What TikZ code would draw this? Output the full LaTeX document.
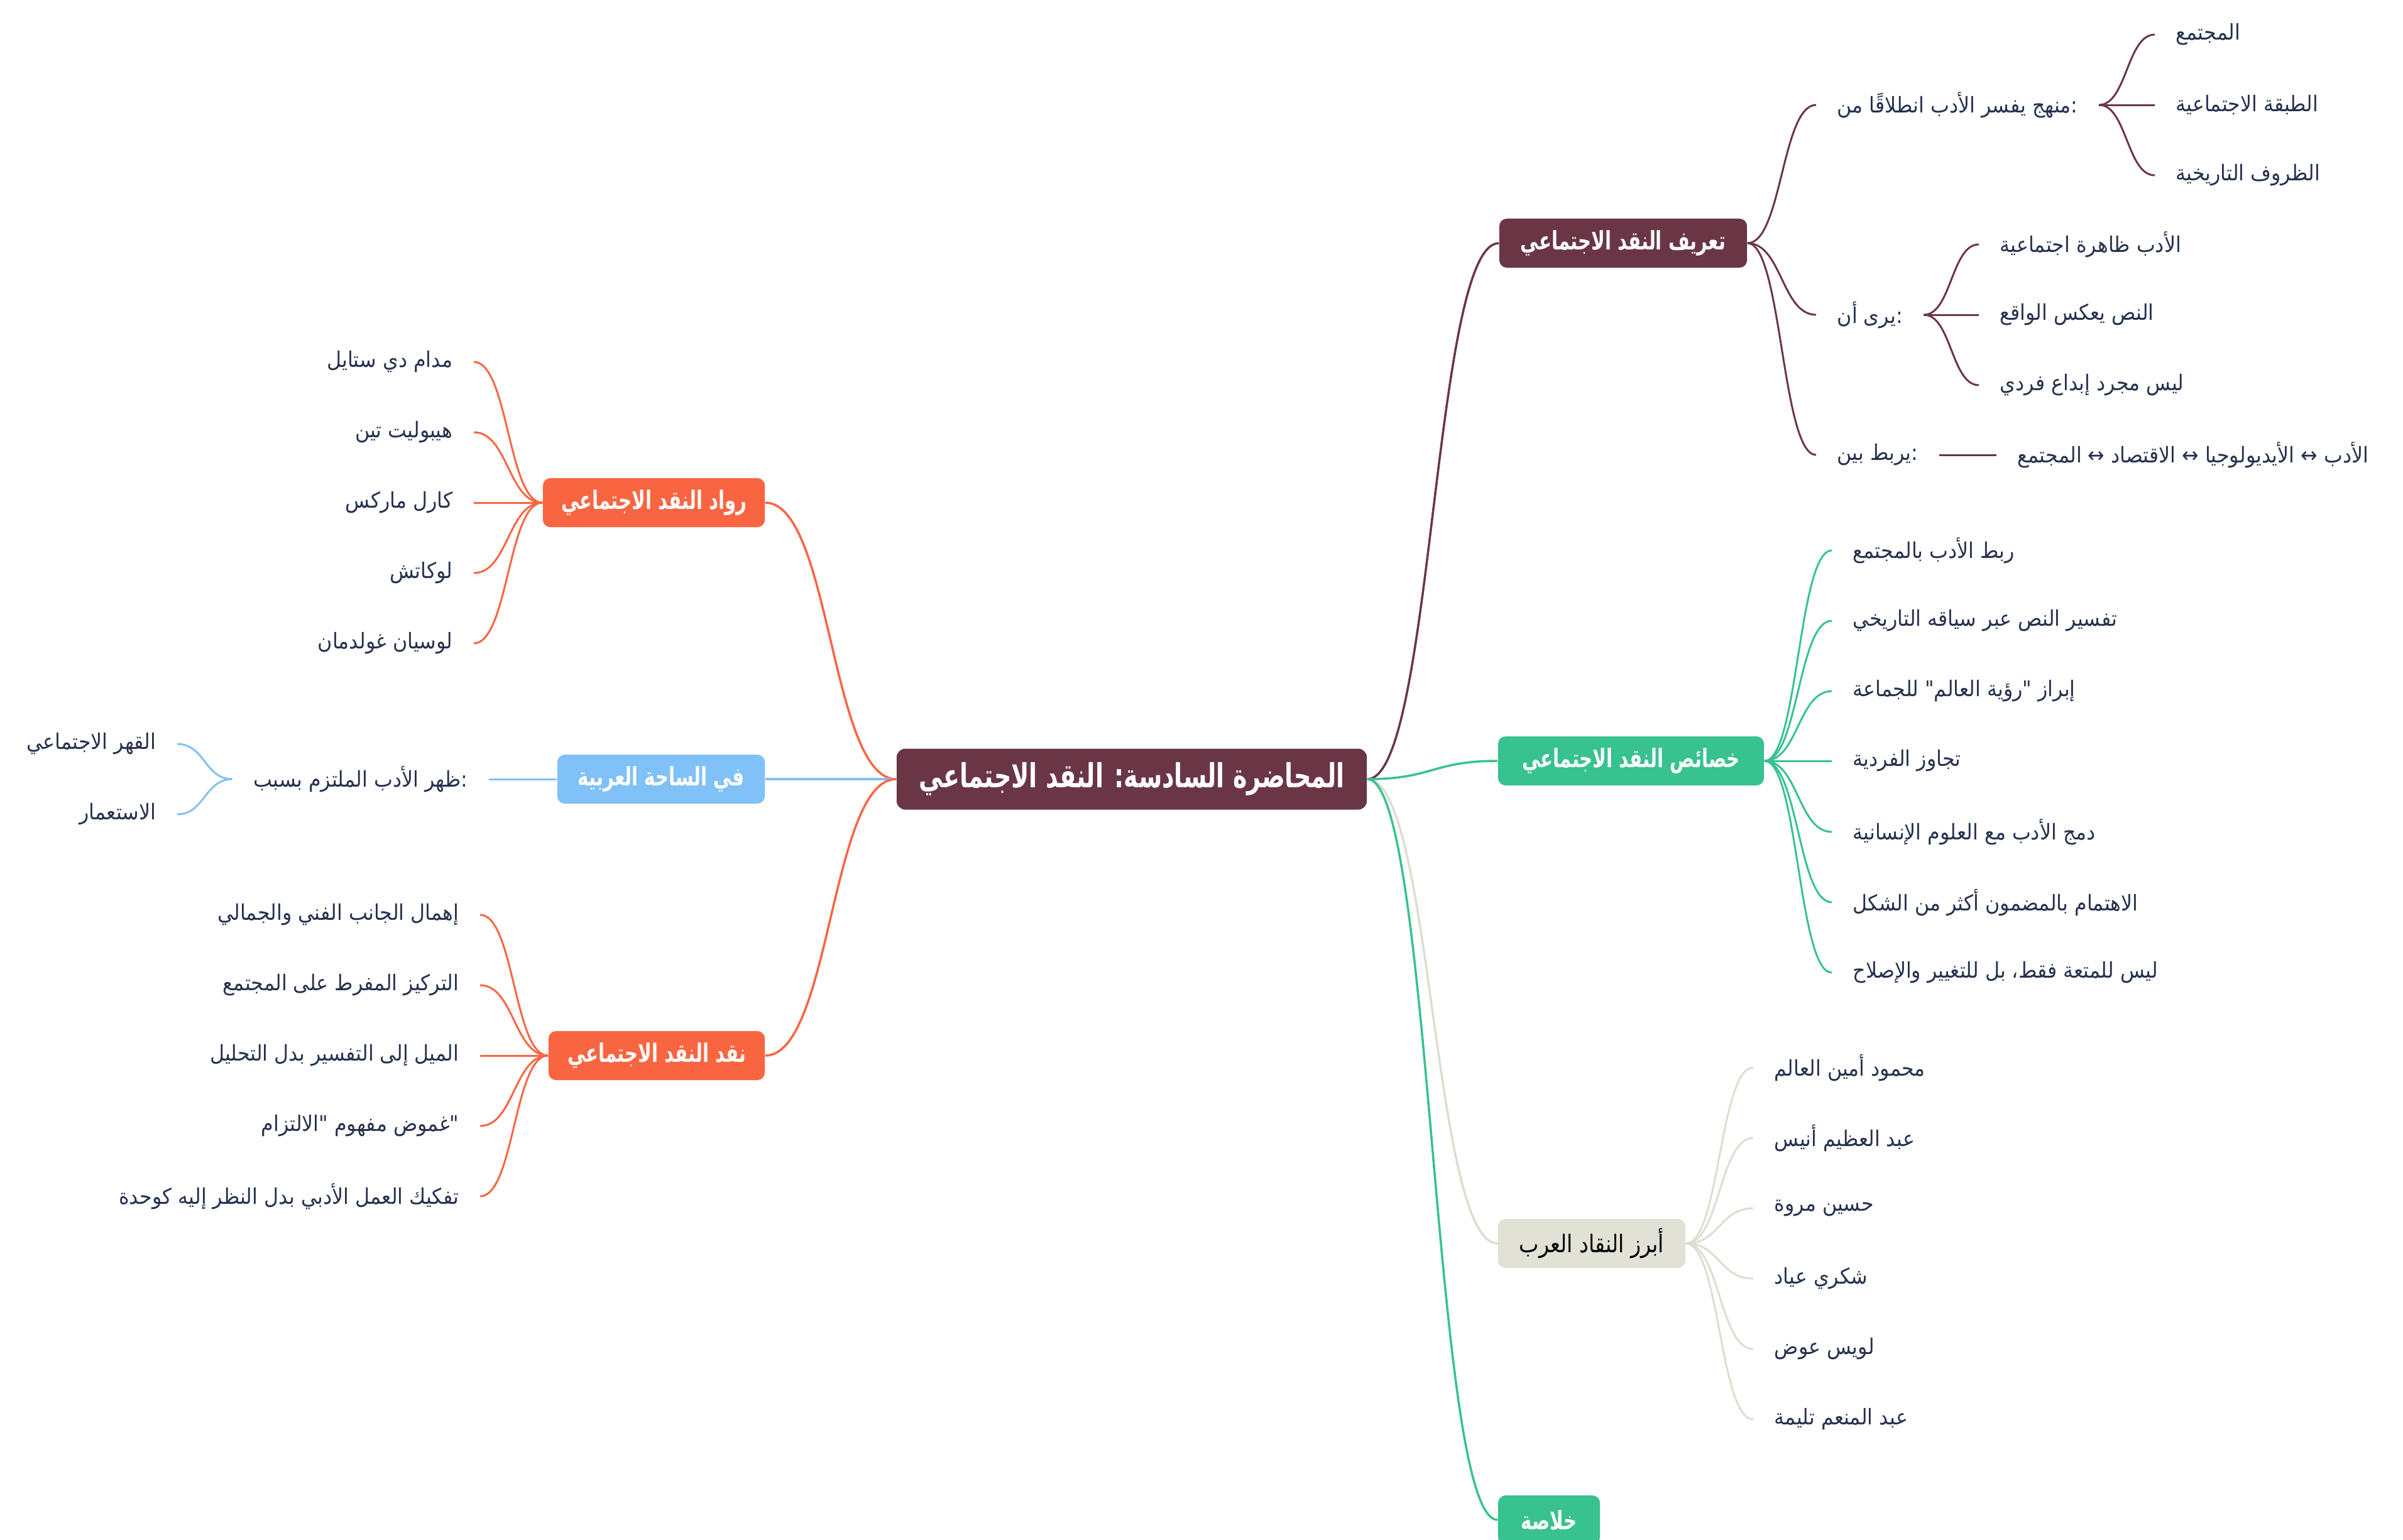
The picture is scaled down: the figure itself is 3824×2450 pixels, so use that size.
\documentclass[tikz,border=0pt]{standalone}
\usepackage{fontspec}
\usetikzlibrary{calc}
\TeXXeTstate=1
\newfontfamily\arabicfont[Script=Arabic,FakeStretch=0.92]{DejaVu Sans}
\newfontfamily\arabiccond[Script=Arabic,FakeStretch=0.72]{DejaVu Sans}
\newfontfamily\arabicsemi[Script=Arabic,FakeStretch=0.86]{DejaVu Sans}
\newcommand\artext[1]{\beginR #1\endR}
\definecolor{maroon}{HTML}{6A3646}
\definecolor{mintgreen}{HTML}{37C28F}
\definecolor{coral}{HTML}{F96541}
\definecolor{skyblue}{HTML}{80C1F7}
\definecolor{beige}{HTML}{E2E1D6}
\definecolor{beigeline}{HTML}{DDDDD0}
\definecolor{ink}{HTML}{25324F}
\begin{document}
\begin{tikzpicture}[x=0.01cm,y=-0.01cm,
  box/.style={rounded corners=0.12cm, minimum height=0.78cm, inner sep=0pt, text=white,
    font=\arabiccond\bfseries\fontsize{11.5}{13}\selectfont},
  leaf/.style={inner xsep=0.33cm, inner ysep=0pt, text=ink,
    font=\arabicfont\fontsize{9.8}{11}\selectfont},
  conn/.style={line width=1pt},
  subconn/.style={line width=0.85pt},
  scurve/.style={to path={let \p1=(\tikztostart), \p2=(\tikztotarget) in
    .. controls ({0.5*(\x1+\x2)},\y1) and ({0.5*(\x1+\x2)},\y2) .. (\tikztotarget)}}
]
\useasboundingbox (0,0) rectangle (3824,2450);

% main
\node[box, fill=maroon, minimum width=7.48cm, minimum height=0.97cm, rounded corners=0.14cm,
  font=\arabiccond\bfseries\fontsize{15}{17}\selectfont] (main) at (1801,1240)
  {\artext{المحاضرة السادسة: النقد الاجتماعي}};

% right branches
\node[box, fill=maroon, minimum width=3.94cm] (b1) at (2583,387) {\artext{تعريف النقد الاجتماعي}};
\node[box, fill=mintgreen, minimum width=4.23cm] (b2) at (2595.5,1211) {\artext{خصائص النقد الاجتماعي}};
\node[box, fill=beige, minimum width=2.98cm, text=black,
  font=\arabicsemi\fontsize{11}{13}\selectfont] (b3) at (2533,1979) {\artext{أبرز النقاد العرب}};
\node[box, fill=mintgreen, minimum width=1.62cm] (b4) at (2465,2419) {\artext{خلاصة}};

% left branches
\node[box, fill=coral, minimum width=3.53cm] (l1) at (1040.5,800) {\artext{رواد النقد الاجتماعي}};
\node[box, fill=skyblue, minimum width=3.30cm] (l2) at (1052,1240) {\artext{في الساحة العربية}};
\node[box, fill=coral, minimum width=3.44cm] (l3) at (1045,1680) {\artext{نقد النقد الاجتماعي}};

% main connectors
\draw[conn, maroon] (main.east) to[scurve] (b1.west);
\draw[conn, beigeline] (main.east) to[scurve] (b3.west);
\draw[conn, mintgreen] (main.east) to[scurve] (b4.west);
\draw[conn, mintgreen] (main.east) to[scurve] (b2.west);
\draw[conn, coral] (main.west) to[scurve] (l1.east);
\draw[conn, skyblue] (main.west) to[scurve] (l2.east);
\draw[conn, coral] (main.west) to[scurve] (l3.east);

% definition
\node[leaf, anchor=west] (t1) at (2890,167) {\artext{منهج يفسر الأدب انطلاقًا من}:};
\node[leaf, anchor=west] (t2) at (2890,501) {\artext{يرى أن}:};
\node[leaf, anchor=west] (t3) at (2890,724) {\artext{يربط بين}:};
\node[leaf, anchor=west] (t1a) at (3429,55) {\artext{المجتمع}};
\node[leaf, anchor=west] (t1b) at (3429,167) {\artext{الطبقة الاجتماعية}};
\node[leaf, anchor=west] (t1c) at (3429,279) {\artext{الظروف التاريخية}};
\node[leaf, anchor=west] (t2a) at (3149,389) {\artext{الأدب ظاهرة اجتماعية}};
\node[leaf, anchor=west] (t2b) at (3149,501) {\artext{النص يعكس الواقع}};
\node[leaf, anchor=west] (t2c) at (3149,613) {\artext{ليس مجرد إبداع فردي}};
\node[leaf, anchor=west] (t3a) at (3177,724) {\artext{الأدب ↔ الأيديولوجيا ↔ الاقتصاد ↔ المجتمع}};
\foreach \c in {t1,t2,t3} \draw[subconn, maroon] (b1.east) to[scurve] (\c.west);
\foreach \c in {t1a,t1b,t1c} \draw[subconn, maroon] (t1.east) to[scurve] (\c.west);
\foreach \c in {t2a,t2b,t2c} \draw[subconn, maroon] (t2.east) to[scurve] (\c.west);
\draw[subconn, maroon] (t3.east) -- (t3a.west);

% characteristics
\node[leaf, anchor=west] (k1) at (2915,876) {\artext{ربط الأدب بالمجتمع}};
\node[leaf, anchor=west] (k2) at (2915,988) {\artext{تفسير النص عبر سياقه التاريخي}};
\node[leaf, anchor=west] (k3) at (2915,1100) {\artext{إبراز "رؤية العالم" للجماعة}};
\node[leaf, anchor=west] (k4) at (2915,1211) {\artext{تجاوز الفردية}};
\node[leaf, anchor=west] (k5) at (2915,1324) {\artext{دمج الأدب مع العلوم الإنسانية}};
\node[leaf, anchor=west] (k6) at (2915,1436) {\artext{الاهتمام بالمضمون أكثر من الشكل}};
\node[leaf, anchor=west] (k7) at (2915,1548) {\artext{ليس للمتعة فقط، بل للتغيير والإصلاح}};
\foreach \c in {k1,k2,k3,k4,k5,k6,k7} \draw[subconn, mintgreen] (b2.east) to[scurve] (\c.west);

% critics
\node[leaf, anchor=west] (n1) at (2790,1699) {\artext{محمود أمين العالم}};
\node[leaf, anchor=west] (n2) at (2790,1811) {\artext{عبد العظيم أنيس}};
\node[leaf, anchor=west] (n3) at (2790,1923) {\artext{حسين مروة}};
\node[leaf, anchor=west] (n4) at (2790,2035) {\artext{شكري عياد}};
\node[leaf, anchor=west] (n5) at (2790,2147) {\artext{لويس عوض}};
\node[leaf, anchor=west] (n6) at (2790,2259) {\artext{عبد المنعم تليمة}};
\foreach \c in {n1,n2,n3,n4,n5,n6} \draw[subconn, beigeline] (b3.east) to[scurve] (\c.west);

% pioneers
\node[leaf, anchor=east] (r1) at (754,576) {\artext{مدام دي ستايل}};
\node[leaf, anchor=east] (r2) at (754,688) {\artext{هيبوليت تين}};
\node[leaf, anchor=east] (r3) at (754,800) {\artext{كارل ماركس}};
\node[leaf, anchor=east] (r4) at (754,912) {\artext{لوكاتش}};
\node[leaf, anchor=east] (r5) at (754,1024) {\artext{لوسيان غولدمان}};
\foreach \c in {r1,r2,r3,r4,r5} \draw[subconn, coral] (l1.west) to[scurve] (\c.east);

% arab scene
\node[leaf, anchor=east] (s1) at (778,1240) {\artext{ظهر الأدب الملتزم بسبب}:};
\node[leaf, anchor=east] (s1a) at (282,1184) {\artext{القهر الاجتماعي}};
\node[leaf, anchor=east] (s1b) at (282,1296) {\artext{الاستعمار}};
\draw[subconn, skyblue] (l2.west) -- (s1.east);
\foreach \c in {s1a,s1b} \draw[subconn, skyblue] (s1.west) to[scurve] (\c.east);

% critique
\node[leaf, anchor=east] (c1) at (764,1456) {\artext{إهمال الجانب الفني والجمالي}};
\node[leaf, anchor=east] (c2) at (764,1568) {\artext{التركيز المفرط على المجتمع}};
\node[leaf, anchor=east] (c3) at (764,1680) {\artext{الميل إلى التفسير بدل التحليل}};
\node[leaf, anchor=east] (c4) at (764,1792) {\artext{غموض مفهوم "الالتزام}"};
\node[leaf, anchor=east] (c5) at (764,1904) {\artext{تفكيك العمل الأدبي بدل النظر إليه كوحدة}};
\foreach \c in {c1,c2,c3,c4,c5} \draw[subconn, coral] (l3.west) to[scurve] (\c.east);
\end{tikzpicture}
\end{document}
